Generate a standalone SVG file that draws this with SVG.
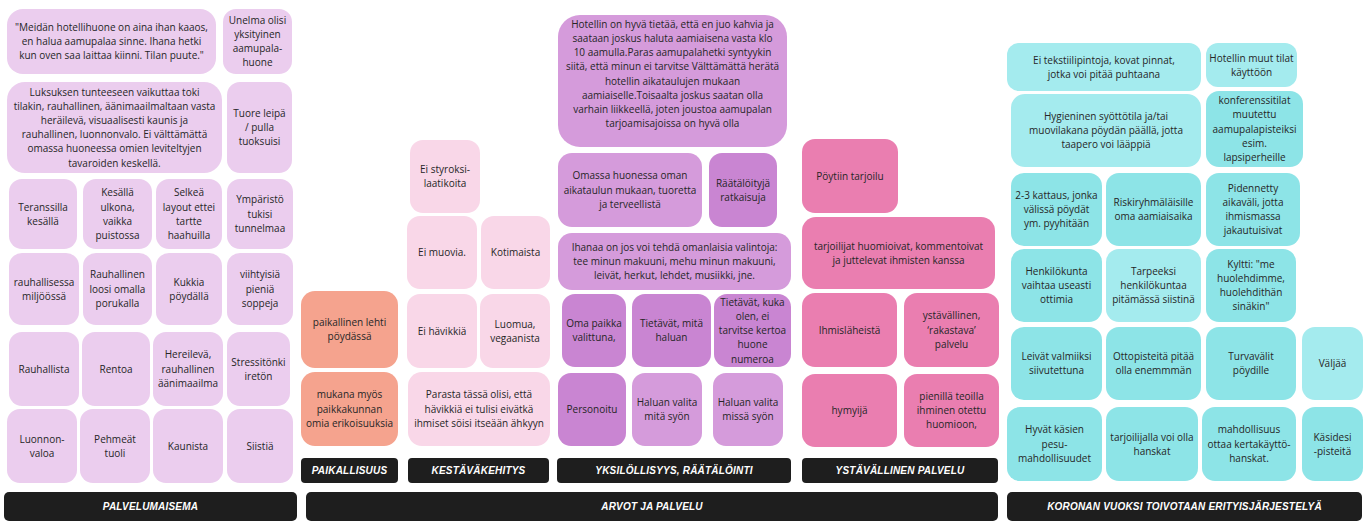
<svg xmlns="http://www.w3.org/2000/svg" width="1368" height="522" viewBox="0 0 1368 522">
<style>
  text { font-family: "Open Sans", "Noto Sans", "DejaVu Sans", sans-serif; font-size: 10px; fill: #262626; text-anchor: middle; }
  .lav { fill: #EBCDEE; }
  .sal { fill: #F5A38E; }
  .lpk { fill: #F9D7E8; }
  .pur { fill: #D59BDB; }
  .dpu { fill: #C985D2; }
  .pnk { fill: #EA7EB0; }
  .cy { fill: #8DE4E7; }
  .lcy { fill: #A4EBEE; }
  .bar { fill: #1E1E1E; }
  text.lbl { font-family: "Liberation Sans", "DejaVu Sans", sans-serif; font-weight: bold; font-style: italic; font-size: 10px; letter-spacing: 0.2px; fill: #FFFFFF; }
</style>
<rect width="1368" height="522" fill="#FFFFFF"/>

<!-- PALVELUMAISEMA -->
<g id="n-meidan"><rect class="lav" x="7" y="9" width="209" height="65" rx="16"/><text x="111.5" y="30.9">"Meidän hotellihuone on aina ihan kaaos,<tspan x="111.5" dy="14.2">en halua aamupalaa sinne. Ihana hetki</tspan><tspan x="111.5" dy="14.2">kun oven saa laittaa kiinni. Tilan puute."</tspan></text></g>
<g id="n-unelma"><rect class="lav" x="223" y="9" width="69" height="65" rx="13"/><text x="257.5" y="23.8">Unelma olisi<tspan x="257.5" dy="14.2">yksityinen</tspan><tspan x="257.5" dy="14.2">aamupala-</tspan><tspan x="257.5" dy="14.2">huone</tspan></text></g>
<g id="n-luksus"><rect class="lav" x="7" y="82" width="215" height="91" rx="18"/><text x="114.5" y="95.6">Luksuksen tunteeseen vaikuttaa toki<tspan x="114.5" dy="14.2">tilakin, rauhallinen, äänimaailmaltaan vasta</tspan><tspan x="114.5" dy="14.2">heräilevä, visuaalisesti kaunis ja</tspan><tspan x="114.5" dy="14.2">rauhallinen, luonnonvalo. Ei välttämättä</tspan><tspan x="114.5" dy="14.2">omassa huoneessa omien leviteltyjen</tspan><tspan x="114.5" dy="14.2">tavaroiden keskellä.</tspan></text></g>
<g id="n-tuore"><rect class="lav" x="227" y="82" width="65" height="91" rx="13"/><text x="259.5" y="116.9">Tuore leipä<tspan x="259.5" dy="14.2">/ pulla</tspan><tspan x="259.5" dy="14.2">tuoksuisi</tspan></text></g>

<g id="n-teranssi"><rect class="lav" x="9" y="179" width="68" height="70" rx="13"/><text x="43" y="210.5">Teranssilla<tspan x="43" dy="14.2">kesällä</tspan></text></g>
<g id="n-kesalla"><rect class="lav" x="83" y="179" width="69" height="70" rx="13"/><text x="117.5" y="196.3">Kesällä<tspan x="117.5" dy="14.2">ulkona,</tspan><tspan x="117.5" dy="14.2">vaikka</tspan><tspan x="117.5" dy="14.2">puistossa</tspan></text></g>
<g id="n-selkea"><rect class="lav" x="156" y="179" width="66" height="70" rx="13"/><text x="189" y="196.3">Selkeä<tspan x="189" dy="14.2">layout ettei</tspan><tspan x="189" dy="14.2">tartte</tspan><tspan x="189" dy="14.2">haahuilla</tspan></text></g>
<g id="n-ymparisto"><rect class="lav" x="227" y="179" width="66" height="70" rx="13"/><text x="260" y="203.4">Ympäristö<tspan x="260" dy="14.2">tukisi</tspan><tspan x="260" dy="14.2">tunnelmaa</tspan></text></g>

<g id="n-miljoo"><rect class="lav" x="9" y="253" width="70" height="72" rx="13"/><text x="44" y="285.5">rauhallisessa<tspan x="44" dy="14.2">miljöössä</tspan></text></g>
<g id="n-loosi"><rect class="lav" x="83" y="253" width="69" height="72" rx="13"/><text x="117.5" y="278.4">Rauhallinen<tspan x="117.5" dy="14.2">loosi omalla</tspan><tspan x="117.5" dy="14.2">porukalla</tspan></text></g>
<g id="n-kukkia"><rect class="lav" x="156" y="253" width="66" height="72" rx="13"/><text x="189" y="285.5">Kukkia<tspan x="189" dy="14.2">pöydällä</tspan></text></g>
<g id="n-soppeja"><rect class="lav" x="227" y="253" width="66" height="72" rx="13"/><text x="260" y="278.4">viihtyisiä<tspan x="260" dy="14.2">pieniä</tspan><tspan x="260" dy="14.2">soppeja</tspan></text></g>

<g id="n-rauhallista"><rect class="lav" x="9" y="332" width="70" height="74" rx="13"/><text x="44" y="372.6">Rauhallista</text></g>
<g id="n-rentoa"><rect class="lav" x="82" y="332" width="68" height="74" rx="13"/><text x="116" y="372.6">Rentoa</text></g>
<g id="n-hereileva"><rect class="lav" x="153" y="332" width="70" height="74" rx="13"/><text x="188" y="358.4">Hereilevä,<tspan x="188" dy="14.2">rauhallinen</tspan><tspan x="188" dy="14.2">äänimaailma</tspan></text></g>
<g id="n-stressi"><rect class="lav" x="227" y="332" width="63" height="74" rx="13"/><text x="258.5" y="365.5">Stressitönki<tspan x="258.5" dy="14.2">iretön</tspan></text></g>

<g id="n-luonnon"><rect class="lav" x="7" y="409" width="70" height="74" rx="13"/><text x="42" y="442.5">Luonnon-<tspan x="42" dy="14.2">valoa</tspan></text></g>
<g id="n-pehmeat"><rect class="lav" x="80" y="409" width="70" height="74" rx="13"/><text x="115" y="442.5">Pehmeät<tspan x="115" dy="14.2">tuoli</tspan></text></g>
<g id="n-kaunista"><rect class="lav" x="153" y="409" width="70" height="74" rx="13"/><text x="188" y="449.6">Kaunista</text></g>
<g id="n-siistia"><rect class="lav" x="227" y="409" width="66" height="74" rx="13"/><text x="260" y="449.6">Siistiä</text></g>

<!-- PAIKALLISUUS -->
<g id="n-lehti"><rect class="sal" x="301" y="291" width="97" height="77" rx="14"/><text x="349.5" y="326">paikallinen lehti<tspan x="349.5" dy="14.2">pöydässä</tspan></text></g>
<g id="n-erikois"><rect class="sal" x="301" y="372" width="97" height="74" rx="14"/><text x="349.5" y="398.4">mukana myös<tspan x="349.5" dy="14.2">paikkakunnan</tspan><tspan x="349.5" dy="14.2">omia erikoisuuksia</tspan></text></g>

<!-- KESTÄVÄKEHITYS -->
<g id="n-styroksi"><rect class="lpk" x="410" y="140" width="70" height="73" rx="13"/><text x="445" y="173">Ei styroksi-<tspan x="445" dy="14.2">laatikoita</tspan></text></g>
<g id="n-muovia"><rect class="lpk" x="407" y="216" width="70" height="73" rx="13"/><text x="442" y="256.1">Ei muovia.</text></g>
<g id="n-kotimaista"><rect class="lpk" x="481" y="216" width="69" height="73" rx="13"/><text x="515.5" y="256.1">Kotimaista</text></g>
<g id="n-havikki"><rect class="lpk" x="407" y="294" width="70" height="74" rx="13"/><text x="442" y="334.6">Ei hävikkiä</text></g>
<g id="n-luomua"><rect class="lpk" x="480" y="294" width="70" height="74" rx="13"/><text x="515" y="327.5">Luomua,<tspan x="515" dy="14.2">vegaanista</tspan></text></g>
<g id="n-parasta"><rect class="lpk" x="408" y="372" width="142" height="74" rx="14"/><text x="479" y="398.4">Parasta tässä olisi, että<tspan x="479" dy="14.2">hävikkiä ei tulisi eivätkä</tspan><tspan x="479" dy="14.2">ihmiset söisi itseään ähkyyn</tspan></text></g>

<!-- YKSILÖLLISYYS, RÄÄTÄLÖINTI -->
<g id="n-hotellin"><rect class="pur" x="558" y="15" width="229" height="132" rx="22"/><text x="672.5" y="27.8">Hotellin on hyvä tietää, että en juo kahvia ja<tspan x="672.5" dy="14.2">saataan joskus haluta aamiaisena vasta klo</tspan><tspan x="672.5" dy="14.2">10 aamulla.Paras aamupalahetki syntyykin</tspan><tspan x="672.5" dy="14.2">siitä, että minun ei tarvitse Välttämättä herätä</tspan><tspan x="672.5" dy="14.2">hotellin aikataulujen mukaan</tspan><tspan x="672.5" dy="14.2">aamiaiselle.Toisaalta joskus saatan olla</tspan><tspan x="672.5" dy="14.2">varhain liikkeellä, joten joustoa aamupalan</tspan><tspan x="672.5" dy="14.2">tarjoamisajoissa on hyvä olla</tspan></text></g>
<g id="n-omassa"><rect class="pur" x="558" y="153" width="144" height="74" rx="14"/><text x="630" y="179.4">Omassa huonessa oman<tspan x="630" dy="14.2">aikataulun mukaan, tuoretta</tspan><tspan x="630" dy="14.2">ja terveellistä</tspan></text></g>
<g id="n-raatalo"><rect class="dpu" x="709" y="153" width="68" height="74" rx="13"/><text x="743" y="186.5">Räätälöityjä<tspan x="743" dy="14.2">ratkaisuja</tspan></text></g>
<g id="n-ihanaa"><rect class="pur" x="558" y="233" width="233" height="57" rx="14"/><text x="674.5" y="250.9">Ihanaa on jos voi tehdä omanlaisia valintoja:<tspan x="674.5" dy="14.2">tee minun makuuni, mehu minun makuuni,</tspan><tspan x="674.5" dy="14.2">leivät, herkut, lehdet, musiikki, jne.</tspan></text></g>
<g id="n-omapaikka"><rect class="dpu" x="562" y="294" width="64" height="73" rx="13"/><text x="594" y="327">Oma paikka<tspan x="594" dy="14.2">valittuna,</tspan></text></g>
<g id="n-tietavat1"><rect class="dpu" x="632" y="294" width="79" height="73" rx="13"/><text x="671.5" y="327">Tietävät, mitä<tspan x="671.5" dy="14.2">haluan</tspan></text></g>
<g id="n-tietavat2"><rect class="dpu" x="714" y="294" width="77" height="73" rx="13"/><text x="752.5" y="305.7">Tietävät, kuka<tspan x="752.5" dy="14.2">olen, ei</tspan><tspan x="752.5" dy="14.2">tarvitse kertoa</tspan><tspan x="752.5" dy="14.2">huone</tspan><tspan x="752.5" dy="14.2">numeroa</tspan></text></g>
<g id="n-personoitu"><rect class="dpu" x="558" y="373" width="68" height="73" rx="13"/><text x="592" y="413.1">Personoitu</text></g>
<g id="n-valita1"><rect class="pur" x="632" y="373" width="70" height="73" rx="13"/><text x="667" y="406">Haluan valita<tspan x="667" dy="14.2">mitä syön</tspan></text></g>
<g id="n-valita2"><rect class="pur" x="713" y="373" width="70" height="73" rx="13"/><text x="748" y="406">Haluan valita<tspan x="748" dy="14.2">missä syön</tspan></text></g>

<!-- YSTÄVÄLLINEN PALVELU -->
<g id="n-poytiin"><rect class="pnk" x="802" y="139" width="96" height="74" rx="13"/><text x="850" y="179.6">Pöytiin tarjoilu</text></g>
<g id="n-tarjoilijat"><rect class="pnk" x="802" y="217" width="193" height="72" rx="14"/><text x="898.5" y="249.5">tarjoilijat huomioivat, kommentoivat<tspan x="898.5" dy="14.2">ja juttelevat ihmisten kanssa</tspan></text></g>
<g id="n-ihmislaheista"><rect class="pnk" x="802" y="293" width="95" height="74" rx="13"/><text x="849.5" y="333.6">Ihmisläheistä</text></g>
<g id="n-ystavallinen"><rect class="pnk" x="904" y="293" width="95" height="74" rx="13"/><text x="951.5" y="319.4">ystävällinen,<tspan x="951.5" dy="14.2">‘rakastava’</tspan><tspan x="951.5" dy="14.2">palvelu</tspan></text></g>
<g id="n-hymyija"><rect class="pnk" x="802" y="374" width="95" height="73" rx="13"/><text x="849.5" y="414.1">hymyijä</text></g>
<g id="n-pienilla"><rect class="pnk" x="904" y="374" width="95" height="73" rx="13"/><text x="951.5" y="399.9">pienillä teoilla<tspan x="951.5" dy="14.2">ihminen otettu</tspan><tspan x="951.5" dy="14.2">huomioon,</tspan></text></g>

<!-- KORONAN VUOKSI -->
<g id="n-tekstiili"><rect class="lcy" x="1007" y="43" width="194" height="48" rx="12"/><text x="1104" y="63.5">Ei tekstiilipintoja, kovat pinnat,<tspan x="1104" dy="14.2">jotka voi pitää puhtaana</tspan></text></g>
<g id="n-muuttilat"><rect class="lcy" x="1206" y="43" width="91" height="44" rx="12"/><text x="1251.5" y="61.5">Hotellin muut tilat<tspan x="1251.5" dy="14.2">käyttöön</tspan></text></g>
<g id="n-hygieninen"><rect class="lcy" x="1011" y="94" width="190" height="73" rx="14"/><text x="1106" y="119.9">Hygieninen syöttötila ja/tai<tspan x="1106" dy="14.2">muovilakana pöydän päällä, jotta</tspan><tspan x="1106" dy="14.2">taapero voi lääppiä</tspan></text></g>
<g id="n-konferenssi"><rect class="cy" x="1206" y="91" width="97" height="76" rx="13"/><text x="1254.5" y="104.2">konferenssitilat<tspan x="1254.5" dy="14.2">muutettu</tspan><tspan x="1254.5" dy="14.2">aamupalapisteiksi</tspan><tspan x="1254.5" dy="14.2">esim.</tspan><tspan x="1254.5" dy="14.2">lapsiperheille</tspan></text></g>
<g id="n-kattaus"><rect class="cy" x="1011" y="173" width="91" height="73" rx="13"/><text x="1056.5" y="198.9">2-3 kattaus, jonka<tspan x="1056.5" dy="14.2">välissä pöydät</tspan><tspan x="1056.5" dy="14.2">ym. pyyhitään</tspan></text></g>
<g id="n-riski"><rect class="cy" x="1106" y="173" width="95" height="73" rx="13"/><text x="1153.5" y="206">Riskiryhmäläisille<tspan x="1153.5" dy="14.2">oma aamiaisaika</tspan></text></g>
<g id="n-pidennetty"><rect class="cy" x="1206" y="173" width="94" height="73" rx="13"/><text x="1253" y="191.8">Pidennetty<tspan x="1253" dy="14.2">aikaväli, jotta</tspan><tspan x="1253" dy="14.2">ihmismassa</tspan><tspan x="1253" dy="14.2">jakautuisivat</tspan></text></g>
<g id="n-henkilokunta"><rect class="cy" x="1011" y="249" width="91" height="73" rx="13"/><text x="1056.5" y="274.9">Henkilökunta<tspan x="1056.5" dy="14.2">vaihtaa useasti</tspan><tspan x="1056.5" dy="14.2">ottimia</tspan></text></g>
<g id="n-tarpeeksi"><rect class="lcy" x="1106" y="249" width="95" height="73" rx="13"/><text x="1153.5" y="274.9">Tarpeeksi<tspan x="1153.5" dy="14.2">henkilökuntaa</tspan><tspan x="1153.5" dy="14.2">pitämässä siistinä</tspan></text></g>
<g id="n-kyltti"><rect class="cy" x="1206" y="249" width="90" height="73" rx="13"/><text x="1251" y="267.8">Kyltti: "me<tspan x="1251" dy="14.2">huolehdimme,</tspan><tspan x="1251" dy="14.2">huolehdithän</tspan><tspan x="1251" dy="14.2">sinäkin"</tspan></text></g>
<g id="n-leivat"><rect class="cy" x="1011" y="327" width="91" height="73" rx="13"/><text x="1056.5" y="360">Leivät valmiiksi<tspan x="1056.5" dy="14.2">siivutettuna</tspan></text></g>
<g id="n-ottopisteet"><rect class="cy" x="1106" y="327" width="95" height="73" rx="13"/><text x="1153.5" y="360">Ottopisteitä pitää<tspan x="1153.5" dy="14.2">olla enemmmän</tspan></text></g>
<g id="n-turvavalit"><rect class="cy" x="1206" y="327" width="90" height="73" rx="13"/><text x="1251" y="360">Turvavälit<tspan x="1251" dy="14.2">pöydille</tspan></text></g>
<g id="n-valjaa"><rect class="lcy" x="1302" y="327" width="61" height="73" rx="13"/><text x="1332.5" y="367.1">Väljää</text></g>
<g id="n-kasienpesu"><rect class="cy" x="1007" y="407" width="95" height="74" rx="13"/><text x="1054.5" y="433.4">Hyvät käsien<tspan x="1054.5" dy="14.2">pesu-</tspan><tspan x="1054.5" dy="14.2">mahdollisuudet</tspan></text></g>
<g id="n-hanskat"><rect class="cy" x="1106" y="407" width="92" height="74" rx="13"/><text x="1152" y="440.5">tarjoilijalla voi olla<tspan x="1152" dy="14.2">hanskat</tspan></text></g>
<g id="n-kertakaytto"><rect class="cy" x="1202" y="407" width="94" height="74" rx="13"/><text x="1249" y="433.4">mahdollisuus<tspan x="1249" dy="14.2">ottaa kertakäyttö-</tspan><tspan x="1249" dy="14.2">hanskat.</tspan></text></g>
<g id="n-kasidesi"><rect class="cy" x="1302" y="407" width="61" height="74" rx="13"/><text x="1332.5" y="440.5">Käsidesi<tspan x="1332.5" dy="14.2">-pisteitä</tspan></text></g>

<!-- category headers -->
<g id="h-paikallisuus"><rect class="bar" x="301" y="458" width="97" height="25" rx="4"/><text class="lbl" x="349.5" y="474">PAIKALLISUUS</text></g>
<g id="h-kestava"><rect class="bar" x="408" y="458" width="141" height="25" rx="4"/><text class="lbl" x="478.5" y="474">KESTÄVÄKEHITYS</text></g>
<g id="h-yksilollisyys"><rect class="bar" x="557" y="458" width="234" height="25" rx="4"/><text class="lbl" x="674" y="474">YKSILÖLLISYYS, RÄÄTÄLÖINTI</text></g>
<g id="h-ystavallinen"><rect class="bar" x="802" y="458" width="196" height="25" rx="4"/><text class="lbl" x="900" y="474">YSTÄVÄLLINEN PALVELU</text></g>
<g id="h-palvelumaisema"><rect class="bar" x="4" y="492" width="293" height="29" rx="5"/><text class="lbl" x="150.5" y="510">PALVELUMAISEMA</text></g>
<g id="h-arvot"><rect class="bar" x="306" y="492" width="692" height="29" rx="5"/><text class="lbl" x="652" y="510">ARVOT JA PALVELU</text></g>
<g id="h-korona"><rect class="bar" x="1007" y="492" width="355" height="29" rx="5"/><text class="lbl" x="1184.5" y="510">KORONAN VUOKSI TOIVOTAAN ERITYISJÄRJESTELYÄ</text></g>
</svg>
